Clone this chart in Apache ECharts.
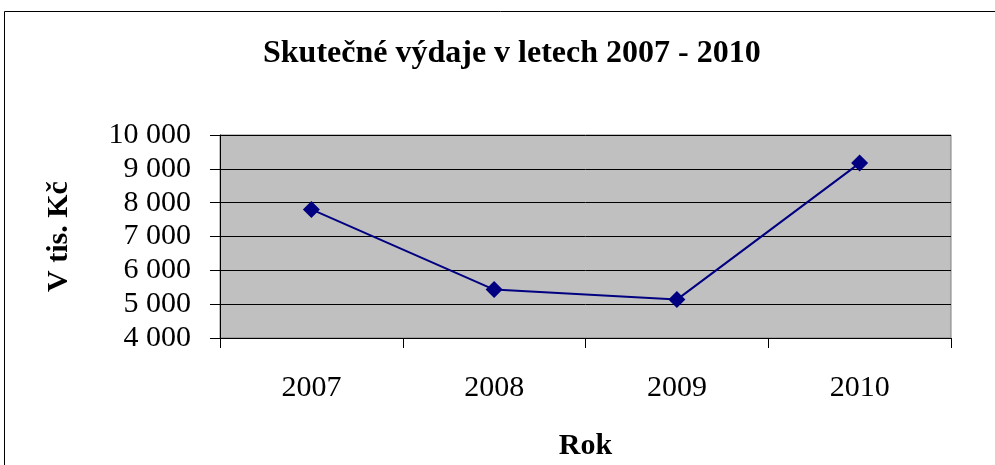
<!DOCTYPE html>
<html>
<head>
<meta charset="utf-8">
<script src="https://cdn.jsdelivr.net/npm/echarts@6/dist/echarts.min.js"></script>
<style>
  html, body { margin: 0; padding: 0; background: #fff; }
  #main { width: 995px; height: 465px; }
</style>
</head>
<body>
<div id="main"></div>
<script>
// data
var years = ['2007', '2008', '2009', '2010'];
var vydaje = [7800, 5430, 5135, 9170];
var yTicks = [4000, 10000, 1000]; // min, max, interval

var font = 'Liberation Serif';

function fmt(v) {
	return String(v).replace(/\B(?=(\d{3})+(?!\d))/g, ' ');
}

var myChart = echarts.init(document.getElementById('main'));
var option = {
	backgroundColor: '#fff',
	animation: false,
	title: {
		text: 'Skutečné výdaje v letech 2007 - 2010',
		left: 258,
		top: 33,
		textStyle: { fontFamily: font, fontSize: 32, fontWeight: 'bold', color: '#000' }
	},
	graphic: [{
		type: 'rect',
		shape: { x: 4.5, y: 11.5, width: 1000, height: 500 },
		style: { fill: 'none', stroke: '#000', lineWidth: 1 },
		z: 0
	}],
	grid: {
		left: 220, right: 44, top: 135, bottom: 127,
		outerBoundsMode: 'none',
		containLabel: false,
		show: true,
		backgroundColor: '#C0C0C0',
		borderColor: '#808080',
		borderWidth: 1
	},
	xAxis: {
		type: 'category',
		data: years,
		boundaryGap: true,
		name: 'Rok',
		nameLocation: 'middle',
		nameGap: 93,
		nameTextStyle: { fontFamily: font, fontSize: 30, fontWeight: 'bold', color: '#000' },
		axisLine: { lineStyle: { color: '#000', width: 1 } },
		axisTick: { show: true, length: 10, alignWithLabel: false, lineStyle: { color: '#000' } },
		axisLabel: { fontFamily: font, fontSize: 30, color: '#000', margin: 35 }
	},
	yAxis: {
		type: 'value',
		min: yTicks[0],
		max: yTicks[1],
		interval: yTicks[2],
		name: 'V tis. Kč',
		nameLocation: 'middle',
		nameGap: 146,
		nameTextStyle: { fontFamily: font, fontSize: 30, fontWeight: 'bold', color: '#000' },
		axisLine: { show: true, lineStyle: { color: '#000', width: 1 } },
		axisTick: { show: true, length: 10, lineStyle: { color: '#000' } },
		axisLabel: { fontFamily: font, fontSize: 30, color: '#000', margin: 29, formatter: fmt },
		splitLine: { show: true, lineStyle: { color: '#000', width: 1 } }
	},
	series: [{
		name: 'Skutečné výdaje',
		type: 'line',
		data: vydaje,
		symbol: 'diamond',
		symbolSize: 17,
		lineStyle: { color: '#000080', width: 2 },
		itemStyle: { color: '#000080' }
	}]
};
myChart.setOption(option);
</script>
</body>
</html>
